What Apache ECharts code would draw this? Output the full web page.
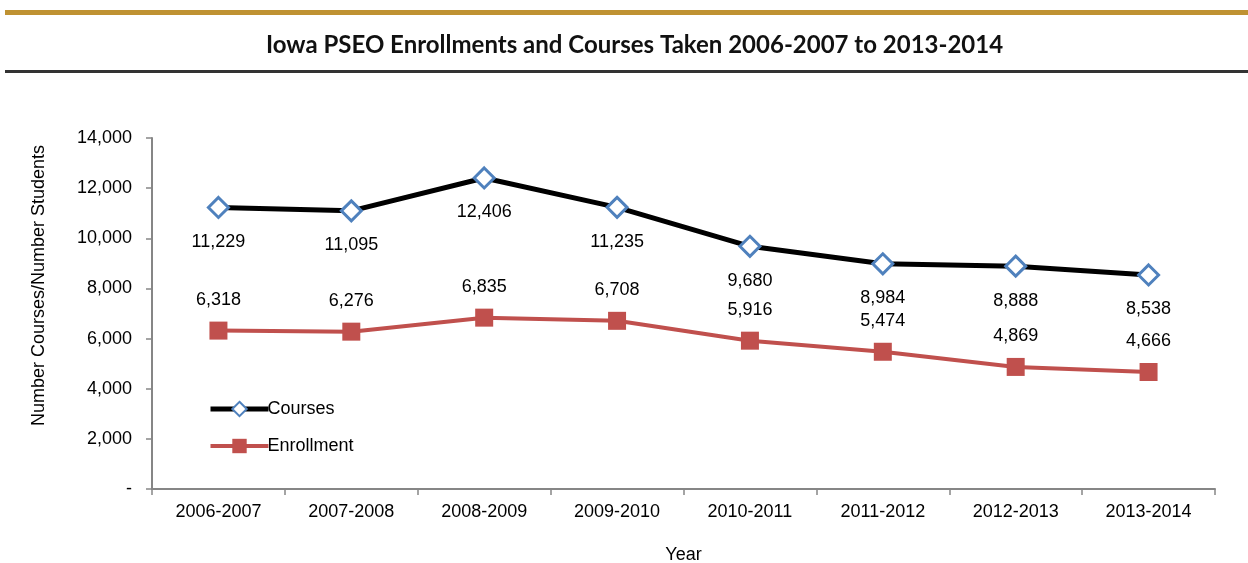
<!DOCTYPE html>
<html>
<head>
<meta charset="utf-8">
<script src="https://cdn.jsdelivr.net/npm/echarts@6/dist/echarts.min.js"></script>
<style>
  html, body { margin: 0; padding: 0; background: #fff; }
  #chart { width: 1248px; height: 563px; }
</style>
</head>
<body>
<div id="chart"></div>
<script>
  // data
  const years = ['2006-2007', '2007-2008', '2008-2009', '2009-2010', '2010-2011', '2011-2012', '2012-2013', '2013-2014']
  const courses = [11229, 11095, 12406, 11235, 9680, 8984, 8888, 8538]
  const enrollment = [6318, 6276, 6835, 6708, 5916, 5474, 4869, 4666]

  const font = '"Liberation Sans", Arial, sans-serif'
  const fmt = v => v === 0 ? '-' : v.toLocaleString('en-US')

  const chart = echarts.init(document.getElementById('chart'))
  chart.setOption({
    animation: false,
    textStyle: { fontFamily: font, color: '#000' },
    title: {
      text: 'Iowa PSEO Enrollments and Courses Taken 2006-2007 to 2013-2014',
      left: 261,
      top: 28,
      textStyle: { fontFamily: 'Lato, sans-serif', fontWeight: 'bold', fontSize: 24, color: '#111' }
    },
    graphic: [
      { type: 'rect', shape: { x: 5, y: 10, width: 1243, height: 5 }, style: { fill: '#BF9232' } },
      { type: 'rect', shape: { x: 5, y: 70, width: 1243, height: 3 }, style: { fill: '#333333' } }
    ],
    legend: {
      orient: 'vertical',
      left: 208,
      top: 400,
      padding: 0,
      itemGap: 19,
      itemWidth: 58,
      itemHeight: 18,
      textStyle: { fontFamily: font, fontSize: 18, color: '#000', padding: [0, 0, 0, -6] },
      data: [
        { name: 'Courses', lineStyle: { width: 5 } },
        { name: 'Enrollment', lineStyle: { width: 4 } }
      ]
    },
    grid: { left: 152, right: 33, top: 138, bottom: 74, outerBoundsMode: 'none' },
    xAxis: {
      type: 'category',
      data: years,
      name: 'Year',
      nameLocation: 'middle',
      nameGap: 57,
      nameTextStyle: { fontSize: 18, color: '#000' },
      axisLine: { lineStyle: { color: '#868686', width: 2 } },
      axisTick: { show: true, length: 6, lineStyle: { color: '#868686', width: 1.5 } },
      axisLabel: { fontSize: 18, color: '#000', margin: 14 }
    },
    yAxis: {
      type: 'value',
      min: 0,
      max: 14000,
      interval: 2000,
      name: 'Number Courses/Number Students',
      nameLocation: 'middle',
      nameGap: 104,
      nameTextStyle: { fontSize: 18, color: '#000', padding: [0, 0, 0, 56] },
      axisLine: { show: true, lineStyle: { color: '#868686', width: 2 } },
      axisTick: { show: true, length: 6, lineStyle: { color: '#868686', width: 1.5 } },
      splitLine: { show: false },
      axisLabel: { fontSize: 18, color: '#000', margin: 20, formatter: fmt }
    },
    series: [
      {
        name: 'Courses',
        type: 'line',
        data: courses,
        symbol: 'diamond',
        symbolSize: 20,
        lineStyle: { color: '#000', width: 5 },
        itemStyle: { color: '#fff', borderColor: '#4F81BD', borderWidth: 3 },
        label: { show: true, position: 'bottom', distance: 14, fontSize: 18, color: '#000', formatter: p => fmt(p.value) },
        z: 3
      },
      {
        name: 'Enrollment',
        type: 'line',
        data: enrollment,
        symbol: 'rect',
        symbolSize: 18,
        lineStyle: { color: '#C0504D', width: 4 },
        itemStyle: { color: '#C0504D' },
        label: { show: true, position: 'top', distance: 13, fontSize: 18, color: '#000', formatter: p => fmt(p.value) },
        z: 2
      }
    ]
  })
</script>
</body>
</html>
